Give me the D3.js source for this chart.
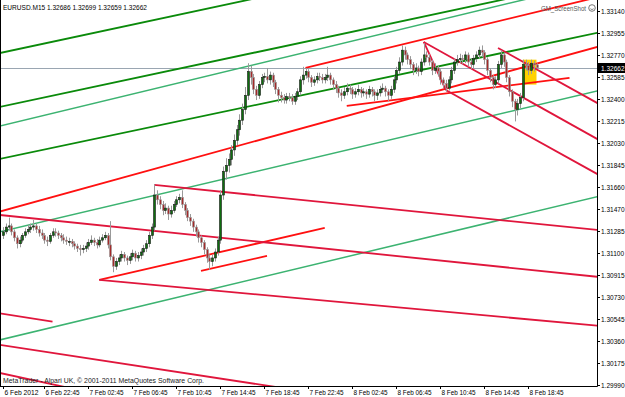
<!DOCTYPE html>
<html>
<head>
<meta charset="utf-8">
<script src="https://cdn.jsdelivr.net/npm/d3@7/dist/d3.min.js"></script>
<style>
  body { margin: 0; background: #fff; }
  svg text { font-family: Tahoma, "Liberation Sans", Arial, sans-serif; }
</style>
</head>
<body>
<div id="chart"></div>
<script>
const symbol = 'EURUSD.M15';
const firstBar = '2012-02-06 19:00';   // M15 bars follow on from here

const opens = [
  1.3125,1.3128,1.3132,1.3133,1.3128,1.3123,1.3118,1.3121,1.3125,1.3128,
  1.3130,1.3132,1.3133,1.3130,1.3127,1.3125,1.3121,1.3120,1.3125,1.3128,
  1.3127,1.3125,1.3123,1.3121,1.3120,1.3120,1.3118,1.3116,1.3114,1.3113,
  1.3114,1.3116,1.3119,1.3121,1.3119,1.3117,1.3121,1.3123,1.3125,1.3117,
  1.3107,1.3099,1.3103,1.3106,1.3109,1.3106,1.3104,1.3107,1.3110,1.3106,
  1.3108,1.3111,1.3114,1.3118,1.3125,1.3132,1.3159,1.3155,1.3151,1.3146,
  1.3148,1.3143,1.3146,1.3151,1.3155,1.3157,1.3151,1.3146,1.3140,1.3137,
  1.3132,1.3128,1.3123,1.3119,1.3113,1.3106,1.3103,1.3106,1.3111,1.3121,
  1.3159,1.3179,1.3184,1.3189,1.3197,1.3205,1.3214,1.3222,1.3231,1.3243,
  1.3263,1.3258,1.3248,1.3243,1.3252,1.3258,1.3259,1.3256,1.3260,1.3254,
  1.3248,1.3243,1.3241,1.3239,1.3242,1.3241,1.3238,1.3242,1.3246,1.3256,
  1.3260,1.3263,1.3258,1.3254,1.3256,1.3259,1.3258,1.3256,1.3258,1.3260,
  1.3256,1.3252,1.3249,1.3245,1.3243,1.3246,1.3249,1.3248,1.3244,1.3246,
  1.3248,1.3245,1.3246,1.3244,1.3248,1.3246,1.3243,1.3245,1.3248,1.3249,
  1.3246,1.3243,1.3248,1.3256,1.3264,1.3271,1.3281,1.3277,1.3273,1.3269,
  1.3264,1.3266,1.3263,1.3271,1.3277,1.3275,1.3271,1.3264,1.3266,1.3263,
  1.3256,1.3253,1.3249,1.3256,1.3264,1.3271,1.3273,1.3274,1.3273,1.3277,
  1.3271,1.3269,1.3274,1.3277,1.3281,1.3279,1.3273,1.3264,1.3258,1.3252,
  1.3256,1.3269,1.3277,1.3271,1.3258,1.3246,1.3238,1.3231,1.3236,1.3241,
  1.3269,1.3268,1.3264,1.3270,1.32686
];
const highs = [
  1.3132,1.3135,1.3140,1.3135,1.3130,1.3125,1.3124,1.3127,1.3131,1.3134,
  1.3135,1.3138,1.3135,1.3133,1.3130,1.3127,1.3124,1.3127,1.3131,1.3131,
  1.3129,1.3127,1.3126,1.3124,1.3123,1.3122,1.3120,1.3118,1.3117,1.3117,
  1.3119,1.3122,1.3125,1.3123,1.3122,1.3124,1.3126,1.3128,1.3127,1.3137,
  1.3109,1.3106,1.3109,1.3112,1.3111,1.3108,1.3110,1.3113,1.3112,1.3111,
  1.3114,1.3117,1.3121,1.3128,1.3135,1.3168,1.3163,1.3158,1.3154,1.3152,
  1.3150,1.3150,1.3154,1.3158,1.3160,1.3163,1.3153,1.3148,1.3143,1.3139,
  1.3134,1.3130,1.3125,1.3121,1.3115,1.3109,1.3109,1.3114,1.3124,1.3163,
  1.3183,1.3190,1.3194,1.3201,1.3210,1.3218,1.3227,1.3236,1.3250,1.3270,
  1.3268,1.3261,1.3251,1.3255,1.3261,1.3262,1.3266,1.3263,1.3262,1.3256,
  1.3250,1.3246,1.3244,1.3245,1.3245,1.3244,1.3245,1.3249,1.3259,1.3267,
  1.3266,1.3265,1.3260,1.3259,1.3262,1.3262,1.3261,1.3261,1.3267,1.3262,
  1.3258,1.3255,1.3251,1.3248,1.3250,1.3253,1.3252,1.3250,1.3249,1.3252,
  1.3250,1.3249,1.3248,1.3251,1.3250,1.3248,1.3248,1.3251,1.3253,1.3251,
  1.3248,1.3251,1.3259,1.3267,1.3275,1.3285,1.3284,1.3279,1.3276,1.3271,
  1.3270,1.3268,1.3274,1.3287,1.3280,1.3278,1.3273,1.3270,1.3268,1.3265,
  1.3258,1.3256,1.3259,1.3267,1.3274,1.3277,1.3278,1.3277,1.3280,1.3279,
  1.3274,1.3277,1.3280,1.3284,1.3285,1.3281,1.3275,1.3266,1.3260,1.3259,
  1.3272,1.3281,1.3279,1.3273,1.3260,1.3248,1.3240,1.3240,1.3245,1.3273,
  1.3273,1.3271,1.3273,1.3272,1.32699
];
const lows = [
  1.3122,1.3126,1.3129,1.3125,1.3120,1.3114,1.3115,1.3119,1.3123,1.3126,
  1.3127,1.3129,1.3127,1.3124,1.3122,1.3118,1.3116,1.3118,1.3123,1.3124,
  1.3122,1.3120,1.3118,1.3117,1.3116,1.3115,1.3113,1.3111,1.3108,1.3110,
  1.3111,1.3113,1.3117,1.3116,1.3114,1.3115,1.3119,1.3121,1.3114,1.3104,
  1.3094,1.3096,1.3100,1.3103,1.3103,1.3100,1.3101,1.3104,1.3103,1.3103,
  1.3105,1.3108,1.3111,1.3115,1.3122,1.3129,1.3151,1.3147,1.3142,1.3143,
  1.3138,1.3140,1.3144,1.3149,1.3152,1.3148,1.3142,1.3137,1.3133,1.3128,
  1.3124,1.3119,1.3115,1.3109,1.3102,1.3096,1.3099,1.3103,1.3108,1.3118,
  1.3155,1.3172,1.3178,1.3184,1.3192,1.3201,1.3209,1.3218,1.3227,1.3239,
  1.3252,1.3244,1.3239,1.3240,1.3249,1.3254,1.3253,1.3252,1.3250,1.3244,
  1.3237,1.3237,1.3236,1.3236,1.3238,1.3235,1.3235,1.3239,1.3243,1.3252,
  1.3257,1.3254,1.3250,1.3251,1.3253,1.3255,1.3253,1.3253,1.3255,1.3252,
  1.3248,1.3245,1.3241,1.3238,1.3240,1.3243,1.3244,1.3240,1.3241,1.3243,
  1.3241,1.3242,1.3240,1.3241,1.3242,1.3238,1.3239,1.3242,1.3245,1.3242,
  1.3238,1.3240,1.3245,1.3253,1.3261,1.3268,1.3273,1.3269,1.3265,1.3260,
  1.3261,1.3259,1.3260,1.3268,1.3271,1.3268,1.3260,1.3261,1.3259,1.3252,
  1.3249,1.3246,1.3247,1.3253,1.3261,1.3268,1.3270,1.3269,1.3270,1.3267,
  1.3265,1.3266,1.3271,1.3274,1.3275,1.3269,1.3260,1.3254,1.3248,1.3249,
  1.3253,1.3266,1.3267,1.3254,1.3242,1.3233,1.3221,1.3226,1.3232,1.3238,
  1.3264,1.3260,1.3261,1.3263,1.32659
];
const closes = [
  1.3128,1.3132,1.3133,1.3128,1.3123,1.3118,1.3121,1.3125,1.3128,1.3130,
  1.3132,1.3133,1.3130,1.3127,1.3125,1.3121,1.3120,1.3125,1.3128,1.3127,
  1.3125,1.3123,1.3121,1.3120,1.3120,1.3118,1.3116,1.3114,1.3113,1.3114,
  1.3116,1.3119,1.3121,1.3119,1.3117,1.3121,1.3123,1.3125,1.3117,1.3107,
  1.3099,1.3103,1.3106,1.3109,1.3106,1.3104,1.3107,1.3110,1.3106,1.3108,
  1.3111,1.3114,1.3118,1.3125,1.3132,1.3159,1.3155,1.3151,1.3146,1.3148,
  1.3143,1.3146,1.3151,1.3155,1.3157,1.3151,1.3146,1.3140,1.3137,1.3132,
  1.3128,1.3123,1.3119,1.3113,1.3106,1.3103,1.3106,1.3111,1.3121,1.3159,
  1.3179,1.3184,1.3189,1.3197,1.3205,1.3214,1.3222,1.3231,1.3243,1.3263,
  1.3258,1.3248,1.3243,1.3252,1.3258,1.3259,1.3256,1.3260,1.3254,1.3248,
  1.3243,1.3241,1.3239,1.3242,1.3241,1.3238,1.3242,1.3246,1.3256,1.3260,
  1.3263,1.3258,1.3254,1.3256,1.3259,1.3258,1.3256,1.3258,1.3260,1.3256,
  1.3252,1.3249,1.3245,1.3243,1.3246,1.3249,1.3248,1.3244,1.3246,1.3248,
  1.3245,1.3246,1.3244,1.3248,1.3246,1.3243,1.3245,1.3248,1.3249,1.3246,
  1.3243,1.3248,1.3256,1.3264,1.3271,1.3281,1.3277,1.3273,1.3269,1.3264,
  1.3266,1.3263,1.3271,1.3277,1.3275,1.3271,1.3264,1.3266,1.3263,1.3256,
  1.3253,1.3249,1.3256,1.3264,1.3271,1.3273,1.3274,1.3273,1.3277,1.3271,
  1.3269,1.3274,1.3277,1.3281,1.3279,1.3273,1.3264,1.3258,1.3252,1.3256,
  1.3269,1.3277,1.3271,1.3258,1.3246,1.3238,1.3231,1.3236,1.3241,1.3269,
  1.3268,1.3264,1.3270,1.32686,1.32662
];

const priceTicks = [1.33140, 1.32955, 1.32770, 1.32585, 1.32400, 1.32215, 1.32030, 1.31845, 1.31660,
                    1.31470, 1.31285, 1.31100, 1.30915, 1.30730, 1.30545, 1.30360, 1.30175, 1.29990];
const timeTicks = ['2012-02-06 19:00', '2012-02-06 22:45', '2012-02-07 02:45', '2012-02-07 06:45',
                   '2012-02-07 10:45', '2012-02-07 14:45', '2012-02-07 18:45', '2012-02-07 22:45',
                   '2012-02-08 02:45', '2012-02-08 06:45', '2012-02-08 10:45', '2012-02-08 14:45',
                   '2012-02-08 18:45'];
const timeTickLabels = ['6 Feb 2012', '6 Feb 22:45', '7 Feb 02:45', '7 Feb 06:45', '7 Feb 10:45',
                        '7 Feb 14:45', '7 Feb 18:45', '7 Feb 22:45', '8 Feb 02:45', '8 Feb 06:45',
                        '8 Feb 10:45', '8 Feb 14:45', '8 Feb 18:45'];

// trend line objects: anchor points [time, price], kind, ray to the right or not
const trendLines = [
  { a: ['2012-02-06 18:00', 1.32772], b: ['2012-02-07 23:00', 1.33347], kind: 'green', ray: true },
  { a: ['2012-02-06 18:00', 1.32318], b: ['2012-02-07 23:00', 1.32891], kind: 'green', ray: true },
  { a: ['2012-02-06 18:00', 1.32156], b: ['2012-02-07 23:00', 1.32803], kind: 'lightgreen', ray: true },
  { a: ['2012-02-06 18:00', 1.31880], b: ['2012-02-07 23:00', 1.32447], kind: 'green', ray: true },
  { a: ['2012-02-06 18:00', 1.31264], b: ['2012-02-07 23:00', 1.31898], kind: 'lightgreen', ray: true },
  { a: ['2012-02-06 18:00', 1.30354], b: ['2012-02-07 23:00', 1.30998], kind: 'lightgreen', ray: true },
  { a: ['2012-02-06 18:00', 1.31433], b: ['2012-02-09 01:00', 1.32837], kind: 'red', ray: true },
  { a: ['2012-02-07 22:30', 1.32660], b: ['2012-02-08 23:00', 1.33210], kind: 'red', ray: true },
  { a: ['2012-02-07 03:45', 1.30875], b: ['2012-02-08 00:15', 1.31313], kind: 'red', ray: false },
  { a: ['2012-02-07 13:00', 1.30951], b: ['2012-02-07 19:00', 1.31077], kind: 'red', ray: false },
  { a: ['2012-02-08 02:15', 1.32341], b: ['2012-02-08 22:30', 1.32576], kind: 'red', ray: false },
  { a: ['2012-02-06 18:00', 1.31429], b: ['2012-02-07 23:00', 1.31151], kind: 'crimson', ray: true },
  { a: ['2012-02-07 08:45', 1.31675], b: ['2012-02-07 23:00', 1.31541], kind: 'crimson', ray: true },
  { a: ['2012-02-07 03:45', 1.30875], b: ['2012-02-07 23:00', 1.30711], kind: 'crimson', ray: true },
  { a: ['2012-02-06 18:00', 1.30604], b: ['2012-02-06 23:30', 1.30524], kind: 'crimson', ray: false },
  { a: ['2012-02-06 18:00', 1.30338], b: ['2012-02-07 23:00', 1.29928], kind: 'crimson', ray: true },
  { a: ['2012-02-06 18:00', 1.30106], b: ['2012-02-07 23:00', 1.29524], kind: 'crimson', ray: true },
  { a: ['2012-02-08 09:15', 1.32879], b: ['2012-02-08 11:15', 1.32475], kind: 'crimson', ray: false },
  { a: ['2012-02-08 09:15', 1.32879], b: ['2012-02-09 01:00', 1.32063], kind: 'crimson', ray: true },
  { a: ['2012-02-08 11:15', 1.32475], b: ['2012-02-09 01:00', 1.31768], kind: 'crimson', ray: true },
  { a: ['2012-02-08 16:00', 1.32829], b: ['2012-02-09 01:00', 1.32366], kind: 'crimson', ray: true }
];

// highlighted rectangle object
const boxStart = '2012-02-08 18:15', boxEnd = '2012-02-08 19:30';
const boxHigh = 1.3273, boxLow = 1.3252;

const lineStyle = {
  green:      { color: '#0a8a0a', width: 1.8 },
  lightgreen: { color: '#3cb371', width: 1.5 },
  red:        { color: '#ff1010', width: 1.8 },
  crimson:    { color: '#e0163c', width: 1.8 }
};

const W = 625, H = 397;
const plot = { left: 0, right: 597, top: 0, bottom: 386 };
const fs = 7.6;      // general text size
const fsAxis = 6.5;  // price scale labels, narrow strip at the right
const parse = d3.utcParse('%Y-%m-%d %H:%M');
const fmt = d3.format('.5f');

const t0 = parse(firstBar);
const barTime = i => new Date(t0.getTime() + i * 15 * 60000);

const x = d3.scaleUtc()
  .domain([parse('2012-02-06 19:00'), parse('2012-02-09 01:00')])
  .range([3, 597]);
const y = d3.scaleLinear()
  .domain([1.29990, 1.33140])
  .range([385, 11]);

const svg = d3.select('#chart').append('svg')
  .attr('width', W).attr('height', H)
  .style('display', 'block')
  .style('background', '#fff');

svg.append('clipPath').attr('id', 'plot-clip')
  .append('rect')
  .attr('x', plot.left).attr('y', plot.top)
  .attr('width', plot.right - plot.left).attr('height', plot.bottom - plot.top);

const g = svg.append('g').attr('clip-path', 'url(#plot-clip)');

// yellow rectangle behind candles
g.append('rect')
  .attr('x', x(parse(boxStart)))
  .attr('y', y(boxHigh))
  .attr('width', x(parse(boxEnd)) - x(parse(boxStart)))
  .attr('height', y(boxLow) - y(boxHigh))
  .attr('fill', '#ffd200');

// current price line
const lastY = Math.round(y(closes[closes.length - 1]));
g.append('line')
  .attr('x1', plot.left).attr('x2', plot.right)
  .attr('y1', lastY + 0.5).attr('y2', lastY + 0.5)
  .attr('stroke', '#9aa6b2').attr('stroke-width', 1);

// trend lines
trendLines.forEach(l => {
  const ax = x(parse(l.a[0])), ay = y(l.a[1]);
  const bx = x(parse(l.b[0])), by = y(l.b[1]);
  let ex = bx, ey = by;
  if (l.ray) {
    const k = (by - ay) / (bx - ax);
    ex = 2000;
    ey = ay + k * (ex - ax);
  }
  const s = lineStyle[l.kind];
  g.append('line')
    .attr('x1', ax).attr('y1', ay)
    .attr('x2', ex).attr('y2', ey)
    .attr('stroke', s.color)
    .attr('stroke-width', s.width);
});

// candles
const bars = d3.range(closes.length).map(i => ({
  t: barTime(i), o: opens[i], h: highs[i], l: lows[i], c: closes[i]
}));

const candle = g.append('g').selectAll('g')
  .data(bars)
  .enter().append('g');

candle.append('line')
  .attr('x1', d => Math.round(x(d.t)) + 0.5)
  .attr('x2', d => Math.round(x(d.t)) + 0.5)
  .attr('y1', d => y(d.h))
  .attr('y2', d => y(d.l))
  .attr('stroke', '#999')
  .attr('stroke-width', 1);

candle.append('rect')
  .attr('x', d => Math.round(x(d.t)) - 0.5)
  .attr('y', d => y(Math.max(d.o, d.c)))
  .attr('width', 2)
  .attr('height', d => Math.max(1, Math.abs(y(d.o) - y(d.c))))
  .attr('fill', d => d.c >= d.o ? '#0e6e0e' : '#a42a2a')
  .attr('stroke', d => d.c >= d.o ? '#1a1a1a' : '#9a9a9a')
  .attr('stroke-width', 0.6);

// frame
svg.append('line').attr('x1', 0.5).attr('x2', 0.5).attr('y1', 0).attr('y2', plot.bottom + 0.5)
  .attr('stroke', '#000');
svg.append('line').attr('x1', plot.right + 0.5).attr('x2', plot.right + 0.5).attr('y1', 0).attr('y2', plot.bottom + 0.5)
  .attr('stroke', '#000');
svg.append('line').attr('x1', 0).attr('x2', plot.right + 0.5).attr('y1', plot.bottom + 0.5).attr('y2', plot.bottom + 0.5)
  .attr('stroke', '#000');

// price axis
const yAxis = svg.append('g');
priceTicks.forEach(p => {
  const yy = Math.round(y(p)) + 0.5;
  yAxis.append('line').attr('x1', plot.right).attr('x2', plot.right + 3)
    .attr('y1', yy).attr('y2', yy).attr('stroke', '#000');
  yAxis.append('text').attr('x', 601).attr('y', yy)
    .attr('dy', '0.35em').attr('font-size', fsAxis).attr('fill', '#000')
    .text(fmt(p));
});

// current price label
svg.append('rect').attr('x', plot.right + 1).attr('y', lastY - 5)
  .attr('width', W - plot.right - 1).attr('height', 10).attr('fill', '#000');
svg.append('text').attr('x', 601).attr('y', lastY + 0.5)
  .attr('dy', '0.35em').attr('font-size', fsAxis).attr('fill', '#fff')
  .text(fmt(closes[closes.length - 1]));

// time axis
timeTicks.forEach((t, i) => {
  const xx = Math.round(x(parse(t))) + 0.5;
  svg.append('line').attr('x1', xx).attr('x2', xx)
    .attr('y1', plot.bottom).attr('y2', plot.bottom + 3).attr('stroke', '#000');
  svg.append('text').attr('x', xx + 1).attr('y', 392)
    .attr('dy', '0.35em').attr('font-size', fs).attr('fill', '#000')
    .attr('textLength', 34).attr('lengthAdjust', 'spacingAndGlyphs')
    .text(timeTickLabels[i]);
});

// header and footer texts
const last = closes.length - 1;
svg.append('text').attr('x', 3).attr('y', 7).attr('dy', '0.35em')
  .attr('font-size', fs).attr('fill', '#000')
  .attr('textLength', 144).attr('lengthAdjust', 'spacingAndGlyphs')
  .text(`${symbol} ${fmt(opens[last])} ${fmt(highs[last])} ${fmt(lows[last])} ${fmt(closes[last])}`);

svg.append('text').attr('x', 3).attr('y', 380).attr('dy', '0.35em')
  .attr('font-size', fs).attr('fill', '#222')
  .attr('textLength', 201).attr('lengthAdjust', 'spacingAndGlyphs')
  .text('MetaTrader - Alpari UK, \u00a9 2001-2011 MetaQuotes Software Corp.');

svg.append('text').attr('x', 541).attr('y', 8).attr('dy', '0.35em')
  .attr('font-size', fs).attr('fill', '#555')
  .attr('textLength', 45).attr('lengthAdjust', 'spacingAndGlyphs')
  .text('GM_ScreenShot');
svg.append('circle').attr('cx', 592).attr('cy', 8).attr('r', 3.3)
  .attr('fill', 'none').attr('stroke', '#555').attr('stroke-width', 0.8);
svg.append('path').attr('d', 'M590.3,8.7 Q592,10.6 593.7,8.7')
  .attr('fill', 'none').attr('stroke', '#555').attr('stroke-width', 0.7);
</script>
</body>
</html>
